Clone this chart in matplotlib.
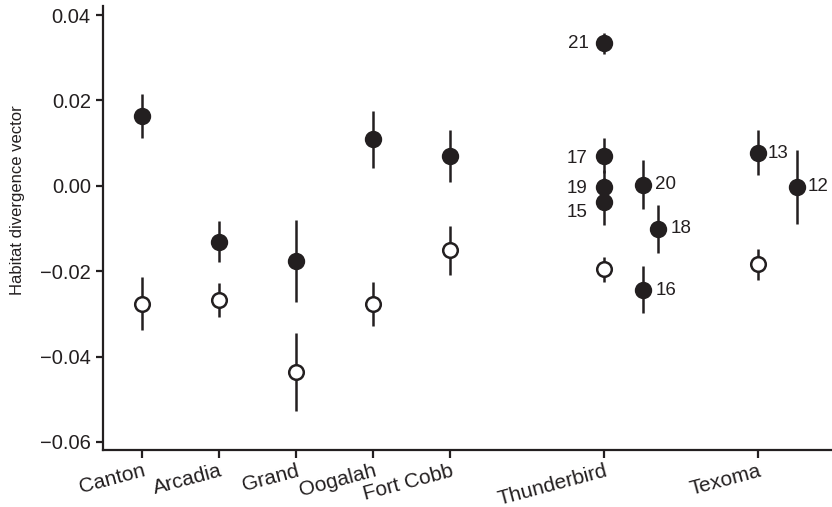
import matplotlib
matplotlib.use("Agg")
import matplotlib.pyplot as plt
import matplotlib.transforms as mtransforms

# ---- data ----
sites = ['Canton', 'Arcadia', 'Grand', 'Oogalah', 'Fort Cobb', 'Thunderbird', 'Texoma']
site_x = [1, 2, 3, 4, 5, 7, 9]

# filled symbols (single value per site, first five sites)
filled_x = [1, 2, 3, 4, 5]
filled_val = [0.0163, -0.0131, -0.0176, 0.0109, 0.0070]
filled_err = [0.0052, 0.0048, 0.0096, 0.0067, 0.0060]

# open symbols (all sites)
open_val = [-0.0276, -0.0268, -0.0436, -0.0277, -0.0151, -0.0196, -0.0184]
open_err = [0.0062, 0.0040, 0.0091, 0.0051, 0.0057, 0.0029, 0.0037]

# numbered sub-sites (Thunderbird & Texoma)
sub_ids = ['21', '17', '19', '15', '20', '18', '16', '13', '12']
sub_x = [7, 7, 7, 7, 7.5, 7.7, 7.5, 9, 9.5]
sub_val = [0.0334, 0.0070, -0.0002, -0.0037, 0.0003, -0.0101, -0.0243, 0.0078, -0.0002]
sub_err = [0.0024, 0.0041, 0.0040, 0.0055, 0.0057, 0.0057, 0.0056, 0.0052, 0.0087]

# label placement (layout only): offsets in points
label_offsets = {'21': (-11, 0, 'right'), '17': (-12, -2, 'right'), '19': (-12, -1, 'right'),
                 '15': (-12, -8, 'right'), '20': (9, 0, 'left'), '18': (9, 0, 'left'),
                 '16': (9, -1, 'left'), '13': (7, -1, 'left'), '12': (8, 0, 'left')}

plt.rcParams['font.family'] = ['Liberation Sans', 'DejaVu Sans']
dark = '#231f20'

fig = plt.figure(figsize=(8.32, 5.07), dpi=100)
ax = fig.add_axes([103.3 / 832, 1 - 450 / 507, 1 - 103.3 / 832, (450 - 5.7) / 507])

ekw = dict(fmt='none', ecolor=dark, elinewidth=1.8, capsize=0, zorder=2)
ax.errorbar(filled_x, filled_val, yerr=filled_err, **ekw)
ax.errorbar(site_x, open_val, yerr=open_err, **ekw)
ax.errorbar(sub_x, sub_val, yerr=sub_err, **ekw)

ax.plot(filled_x, filled_val, 'o', ms=11, mfc=dark, mec=dark, mew=1.5, ls='none', zorder=3)
ax.plot(sub_x, sub_val, 'o', ms=11, mfc=dark, mec=dark, mew=1.5, ls='none', zorder=3)
ax.plot(site_x, open_val, 'o', ms=10.5, mfc='white', mec=dark, mew=1.8, ls='none', zorder=3)

for lab, x, y in zip(sub_ids, sub_x, sub_val):
    dx, dy, ha = label_offsets[lab]
    ax.annotate(lab, (x, y), xytext=(dx, dy), textcoords='offset points',
                ha=ha, va='center', fontsize=13.5, color=dark)

ax.set_xlim(0.494, 9.96)
ax.set_ylim(-0.0619, 0.0422)
ax.set_yticks([-0.06, -0.04, -0.02, 0.00, 0.02, 0.04])
ax.set_yticklabels(['\u22120.06', '\u22120.04', '\u22120.02', '0.00', '0.02', '0.04'])
ax.set_xticks(site_x)
ax.set_xticklabels(sites, rotation=15, ha='right', rotation_mode='anchor')

shift = mtransforms.ScaledTranslation(-3 / 100, 3 / 100, fig.dpi_scale_trans)
for t in ax.get_xticklabels():
    t.set_transform(t.get_transform() + shift)

for s in ['top', 'right']:
    ax.spines[s].set_visible(False)
for s in ['left', 'bottom']:
    ax.spines[s].set_linewidth(1.6)
    ax.spines[s].set_color(dark)

ax.tick_params(axis='both', direction='out', width=1.6, color=dark, labelcolor=dark)
ax.tick_params(axis='y', length=5, pad=4, labelsize=14.5)
ax.tick_params(axis='x', length=6, pad=2, labelsize=15)

ax.set_ylabel('Habitat divergence vector', fontsize=12, color=dark)
ax.yaxis.set_label_coords(-0.107, 0.563)

fig.savefig('out.png', dpi=100)
